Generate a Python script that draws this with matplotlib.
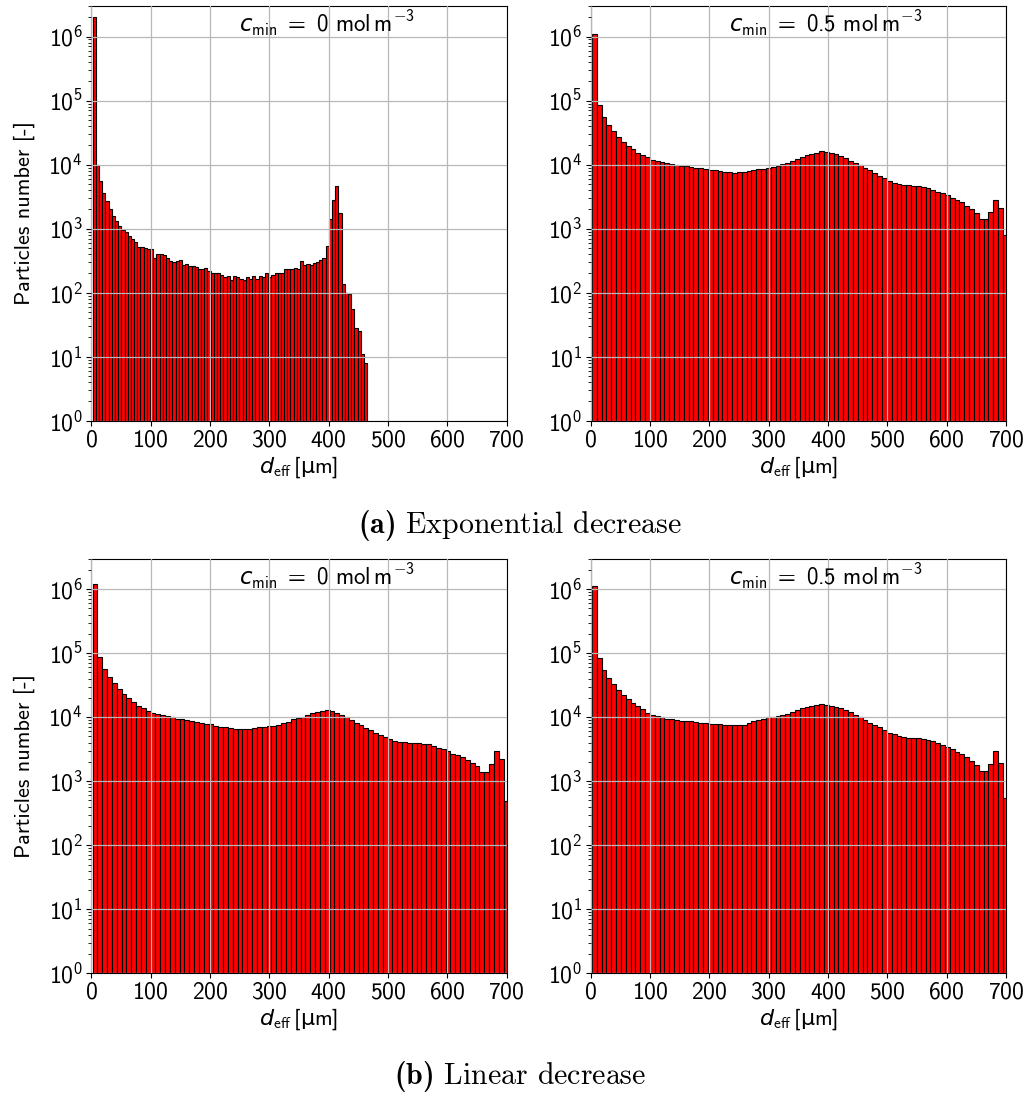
import numpy as np
import matplotlib
matplotlib.use("Agg")
import matplotlib.pyplot as plt

plt.rcParams['font.family'] = ['cmss10', 'DejaVu Sans']
plt.rcParams['mathtext.fontset'] = 'custom'
plt.rcParams['mathtext.rm'] = 'cmss10'
plt.rcParams['mathtext.sf'] = 'cmss10'
plt.rcParams['mathtext.it'] = 'DejaVu Sans:italic'
plt.rcParams['mathtext.bf'] = 'cmb10'
plt.rcParams['mathtext.tt'] = 'DejaVu Sans'
plt.rcParams['axes.unicode_minus'] = False
plt.rcParams['axes.formatter.use_mathtext'] = True

# ---------------- data ----------------
d_start = 2.0          # first bin edge [um]
bin_w_exp0 = 5.38      # bin width, exponential decrease, c_min = 0
bin_w = 8.15           # bin width, other cases

counts_exp_c0 = [2.0e6, 9800, 5600, 3650, 2700, 2000, 1600, 1330, 1110, 950,
                 870, 780, 700, 610, 525, 510, 490, 475, 475, 345,
                 397, 395, 390, 345, 316, 300, 316, 320, 270, 285,
                 265, 260, 250, 237, 237, 245, 215, 200, 200, 200,
                 188, 178, 185, 158, 185, 178, 165, 158, 178, 165,
                 185, 163, 180, 175, 200, 178, 190, 200, 205, 203,
                 237, 237, 235, 246, 235, 309, 267, 277, 267, 287,
                 298, 320, 352, 543, 1415, 2775, 4700, 1740, 138, 99,
                 96, 56, 28, 25, 11, 8]

counts_exp_c05 = [1.1e6, 8.4e4, 5.6e4, 4.2e4, 3.36e4, 2.74e4, 2.29e4, 1.98e4, 1.74e4, 1.54e4,
                  1.40e4, 1.30e4, 1.20e4, 1.14e4, 1.10e4, 1.05e4, 1.01e4, 9.8e3, 9.5e3, 9.4e3,
                  9.2e3, 8.9e3, 8.7e3, 8.6e3, 8.2e3, 8.1e3, 7.95e3, 7.8e3, 7.7e3, 7.5e3,
                  7.8e3, 7.8e3, 7.95e3, 8.25e3, 8.6e3, 8.6e3, 8.7e3, 9.1e3, 9.5e3, 1.01e4,
                  1.07e4, 1.14e4, 1.23e4, 1.32e4, 1.40e4, 1.49e4, 1.54e4, 1.62e4, 1.60e4, 1.54e4,
                  1.45e4, 1.37e4, 1.26e4, 1.15e4, 1.05e4, 9.7e3, 8.9e3, 8.1e3, 7.3e3, 6.7e3,
                  6.2e3, 5.6e3, 5.1e3, 4.9e3, 4.87e3, 4.8e3, 4.7e3, 4.7e3, 4.5e3, 4.27e3,
                  4.0e3, 3.8e3, 3.56e3, 3.3e3, 2.98e3, 2.8e3, 2.64e3, 2.28e3, 2.0e3, 1.78e3,
                  1.4e3, 1.4e3, 1.82e3, 2.8e3, 2.13e3, 790]

counts_lin_c0 = [1.2e6, 8.6e4, 5.76e4, 4.27e4, 3.44e4, 2.77e4, 2.32e4, 1.96e4, 1.74e4, 1.52e4,
                 1.37e4, 1.27e4, 1.18e4, 1.13e4, 1.07e4, 1.04e4, 1.0e4, 9.5e3, 9.3e3, 9.1e3,
                 8.76e3, 8.45e3, 8.15e3, 7.87e3, 7.77e3, 7.3e3, 7.15e3, 6.98e3, 6.73e3, 6.65e3,
                 6.57e3, 6.57e3, 6.5e3, 6.9e3, 7.06e3, 7.15e3, 7.3e3, 7.3e3, 7.6e3, 8.06e3,
                 8.55e3, 9.3e3, 9.76e3, 1.02e4, 1.07e4, 1.15e4, 1.2e4, 1.27e4, 1.3e4, 1.24e4,
                 1.15e4, 1.07e4, 9.9e3, 9.1e3, 8.25e3, 7.5e3, 6.8e3, 6.2e3, 5.6e3, 5.2e3,
                 4.87e3, 4.53e3, 4.27e3, 4.1e3, 4.07e3, 4.0e3, 4.0e3, 3.97e3, 3.83e3, 3.78e3,
                 3.57e3, 3.36e3, 3.16e3, 2.94e3, 2.67e3, 2.54e3, 2.4e3, 2.13e3, 1.96e3, 1.74e3,
                 1.4e3, 1.4e3, 1.84e3, 2.98e3, 2.2e3, 490]

counts_lin_c05 = [1.1e6, 8.26e4, 5.5e4, 4.07e4, 3.28e4, 2.67e4, 2.21e4, 1.89e4, 1.66e4, 1.49e4,
                  1.33e4, 1.18e4, 1.1e4, 1.05e4, 1.0e4, 9.5e3, 9.3e3, 9.1e3, 8.87e3, 8.76e3,
                  8.66e3, 8.45e3, 8.25e3, 8.06e3, 7.87e3, 7.77e3, 7.77e3, 7.6e3, 7.5e3, 7.5e3,
                  7.5e3, 7.5e3, 8.25e3, 8.87e3, 9.2e3, 9.4e3, 9.9e3, 1.02e4, 1.05e4, 1.1e4,
                  1.14e4, 1.21e4, 1.29e4, 1.37e4, 1.43e4, 1.5e4, 1.56e4, 1.58e4, 1.56e4, 1.5e4,
                  1.45e4, 1.38e4, 1.29e4, 1.2e4, 1.1e4, 1.01e4, 9.1e3, 8.25e3, 7.6e3, 6.98e3,
                  6.42e3, 5.76e3, 5.42e3, 5.1e3, 4.93e3, 4.76e3, 4.7e3, 4.7e3, 4.64e3, 4.48e3,
                  4.27e3, 4.0e3, 3.65e3, 3.44e3, 3.16e3, 2.9e3, 2.7e3, 2.4e3, 2.08e3, 1.78e3,
                  1.42e3, 1.45e3, 1.84e3, 2.94e3, 1.96e3, 550]

panel_titles = [r'$c_{\mathrm{min}}\; =\; 0\ \mathrm{mol\,m^{-3}}$',
                r'$c_{\mathrm{min}}\; =\; 0.5\ \mathrm{mol\,m^{-3}}$']
captions = [r'$\mathbf{(a)}$ Exponential decrease', r'$\mathbf{(b)}$ Linear decrease']
xticks = [0, 100, 200, 300, 400, 500, 600, 700]
ylabel = 'Particles number [-]'
xlabel = r'$d_{\mathrm{eff}}\,[\mathtt{\mu}\mathrm{m}]$'

panels = [(counts_exp_c0, bin_w_exp0), (counts_exp_c05, bin_w),
          (counts_lin_c0, bin_w), (counts_lin_c05, bin_w)]

# ---------------- figure ----------------
W, H = 1032, 1095
fig = plt.figure(figsize=(W / 100, H / 100), dpi=100)

ax_w = 415.3 / W
ax_h = 414.7 / H
lefts = [91.4 / W, 590.7 / W]
bottoms = [1 - 420.7 / H, 1 - 973.3 / H]

fs_tick = 17
fs_lab = 16
fs_title = 16.5
for k, (counts, w) in enumerate(panels):
    r, c = divmod(k, 2)
    ax = fig.add_axes([lefts[c], bottoms[r], ax_w, ax_h])
    counts = np.asarray(counts, dtype=float)
    left_edges = d_start + w * np.arange(len(counts))
    ax.bar(left_edges, counts, width=w, align='edge', color='#ff0000',
           edgecolor='black', linewidth=0.8)
    ax.set_yscale('log')
    ax.set_xlim(0, 700)
    ax.set_ylim(1, 3.0e6)
    ax.set_xticks(xticks)
    ax.tick_params(labelsize=fs_tick, pad=2.5)
    ax.grid(True, which='major', color='#b8b8b8', linewidth=0.9)
    ax.set_axisbelow(False)
    ax.set_xlabel(xlabel, fontsize=fs_lab)
    ax.xaxis.set_label_coords(0.5, -0.08)
    if c == 0:
        ax.set_ylabel(ylabel, fontsize=fs_lab)
        ax.yaxis.set_label_coords(-0.135, 0.5)
    ax.text(0.566, 0.993, panel_titles[c], transform=ax.transAxes,
            ha='center', va='top', fontsize=fs_title)

fig.text(520 / W, 1 - 533 / H, captions[0], ha='center', va='baseline',
         fontsize=21.5, family='cmr10')
fig.text(520 / W, 1 - 1084 / H, captions[1], ha='center', va='baseline',
         fontsize=21.5, family='cmr10')

fig.savefig('out.png', dpi=100)
